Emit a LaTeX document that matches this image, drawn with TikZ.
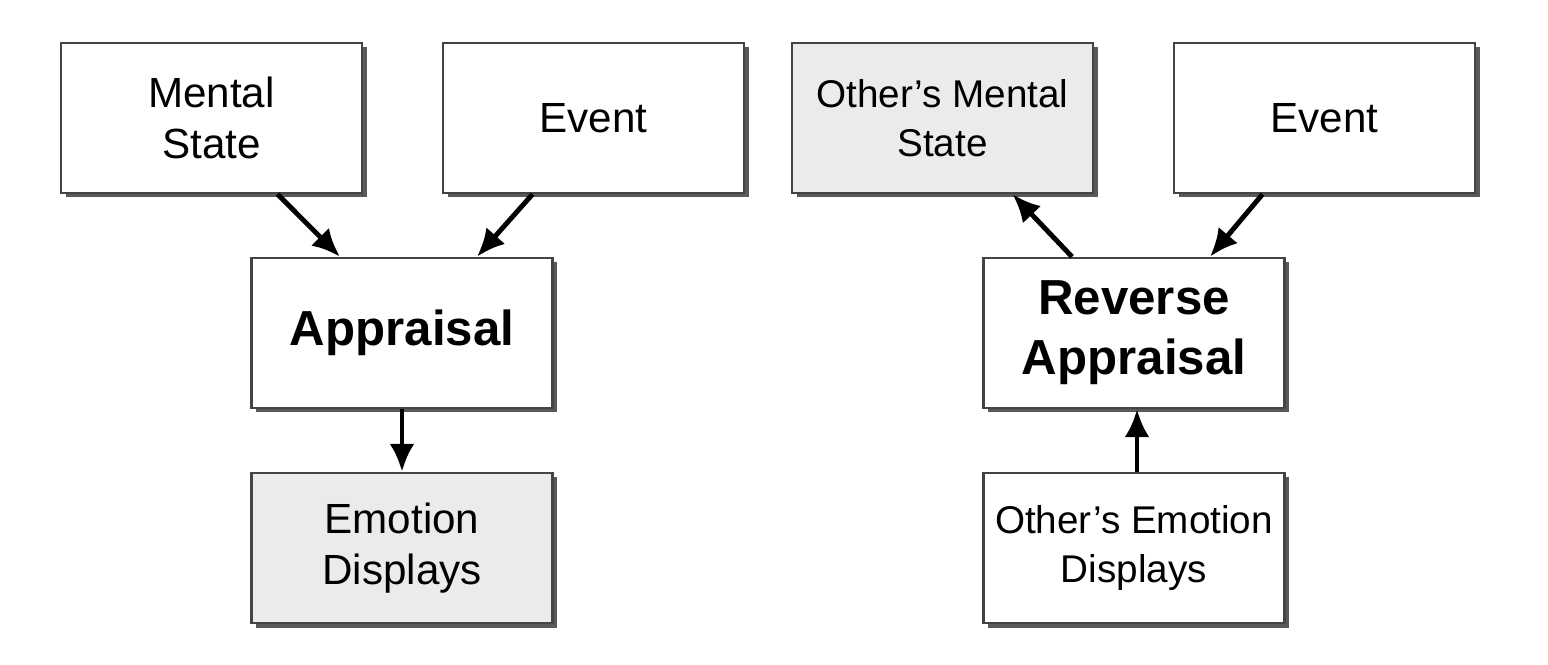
\documentclass[tikz,border=0pt]{standalone}
\usepackage{fontspec}
\setmainfont{Liberation Sans}
\usetikzlibrary{arrows.meta,shadows}
\definecolor{boxgray}{HTML}{EBEBEB}
\definecolor{edgegray}{HTML}{444444}
\begin{document}
\begin{tikzpicture}[
		box/.style={draw=edgegray, line width=0.7pt, fill=white, minimum width=3.01cm, minimum height=1.5cm, align=center, inner sep=2pt,
			drop shadow={shadow xshift=0.45mm, shadow yshift=-0.45mm, fill=black!65, opacity=1}},
		shaded/.style={box, fill=boxgray},
		arr/.style={-{Latex[length=2.8mm,width=2.5mm]}, line width=1.4pt}
	]
		\useasboundingbox (0,0) rectangle (15.48,6.64);
		
		\node [box, font=\fontsize{12}{14.5}\selectfont] (ms) at (2.115, 5.46) {Mental\\State};
		\node [box, font=\fontsize{12}{14.5}\selectfont] (evl) at (5.935, 5.46) {Event};
		\node [box, font=\fontsize{14}{17}\selectfont\bfseries] (app) at (4.02, 3.31) {Appraisal};
		\node [shaded, font=\fontsize{12}{14.5}\selectfont] (emo) at (4.02, 1.16) {Emotion\\Displays};
		
		\node [shaded, font=\fontsize{11}{14}\selectfont] (oms) at (9.425, 5.46) {Other’s Mental\\State};
		\node [box, font=\fontsize{12}{14.5}\selectfont] (evr) at (13.245, 5.46) {Event};
		\node [box, font=\fontsize{14}{17}\selectfont\bfseries] (rev) at (11.34, 3.31) {Reverse\\Appraisal};
		\node [box, font=\fontsize{11}{14}\selectfont] (oemo) at (11.34, 1.16) {Other’s Emotion\\Displays};
		
		\draw [arr] ([xshift=6.6mm]ms.south) -- ([xshift=-6.2mm]app.north);
		\draw [arr] ([xshift=-6.1mm]evl.south) -- ([xshift=7.5mm]app.north);
		\draw [arr] (app.south) -- (emo.north);
		
		\draw [arr] ([xshift=-6.2mm]rev.north) -- ([xshift=7mm]oms.south);
		\draw [arr] ([xshift=-6.2mm]evr.south) -- ([xshift=7.6mm]rev.north);
		\draw [arr] ([xshift=0.3mm]oemo.north) -- ([xshift=0.3mm]rev.south);
		
		\end{tikzpicture}
\end{document}
